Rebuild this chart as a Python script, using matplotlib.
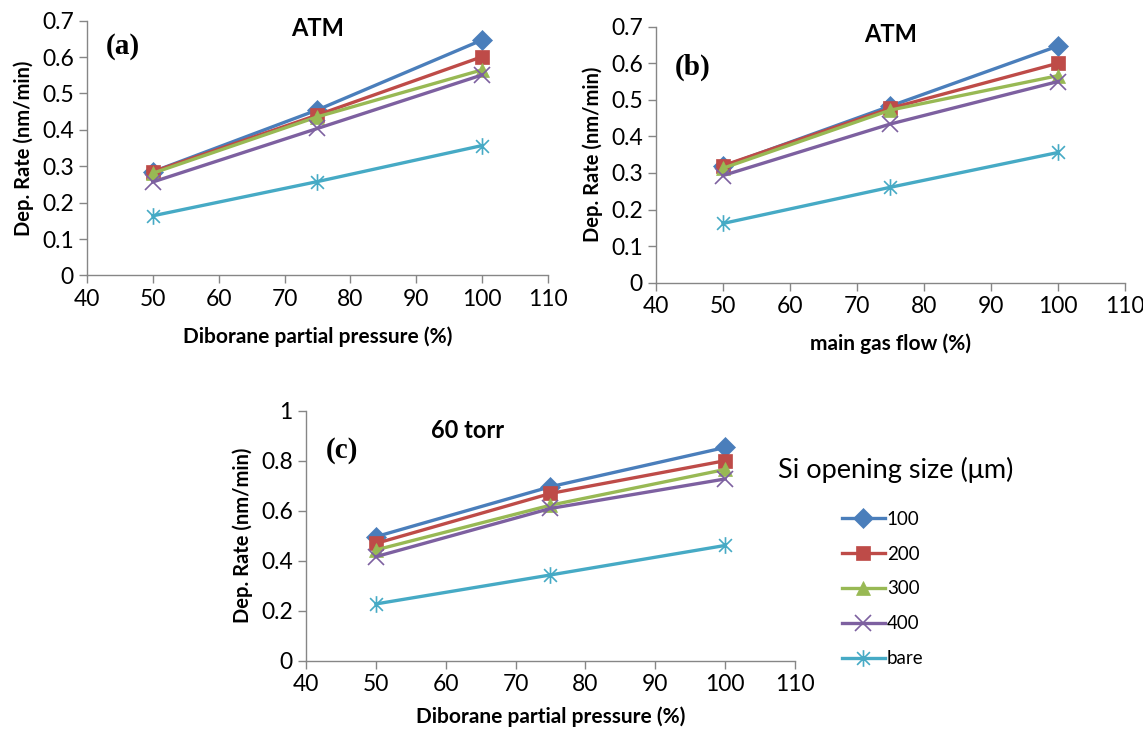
import matplotlib
matplotlib.use('Agg')
import matplotlib.pyplot as plt
from matplotlib.path import Path
from matplotlib.lines import Line2D

plt.rcParams['font.family'] = ['Lato', 'DejaVu Sans']

# x values (%)
x_vals = [50, 75, 100]
series_names = ['100', '200', '300', '400', 'bare']

# (a) ATM, diborane partial pressure
a_100 = [0.285, 0.455, 0.647]
a_200 = [0.285, 0.441, 0.601]
a_300 = [0.281, 0.436, 0.565]
a_400 = [0.257, 0.404, 0.551]
a_bare = [0.164, 0.258, 0.357]

# (b) ATM, main gas flow
b_100 = [0.318, 0.483, 0.647]
b_200 = [0.320, 0.477, 0.600]
b_300 = [0.313, 0.472, 0.566]
b_400 = [0.293, 0.434, 0.550]
b_bare = [0.162, 0.261, 0.356]

# (c) 60 torr, diborane partial pressure
c_100 = [0.496, 0.696, 0.853]
c_200 = [0.469, 0.669, 0.800]
c_300 = [0.443, 0.622, 0.765]
c_400 = [0.416, 0.609, 0.727]
c_bare = [0.227, 0.343, 0.461]

colors = ['#4A7EBB', '#BE4B48', '#98B954', '#7D60A0', '#46AAC5']

# excel style asterisk marker (x with vertical bar)
star = Path([(-1, -1), (1, 1), (-1, 1), (1, -1), (0, -1.3), (0, 1.3)],
            [Path.MOVETO, Path.LINETO, Path.MOVETO, Path.LINETO, Path.MOVETO, Path.LINETO])
markers = ['D', 's', '^', 'x', star]
msizes = [10, 10.5, 10.5, 11, 12]

grey = '#868686'


def style_kw(c, m, ms):
    unfilled = m == 'x' or isinstance(m, Path)
    return dict(color=c, lw=2.4, marker=m, markersize=ms,
                markerfacecolor='none' if unfilled else c,
                markeredgecolor=c, markeredgewidth=1.2 if unfilled else 0.5)


def draw_panel(ax, data, ymax, ystep, title, tag, xlabel, xpad=12):
    for vals, c, m, ms in zip(data, colors, markers, msizes):
        ax.plot(x_vals, vals, **style_kw(c, m, ms))
    ax.set_xlim(40, 110)
    ax.set_ylim(0, ymax)
    ax.set_xticks(range(40, 111, 10))
    n = int(round(ymax / ystep))
    yt = [i * ystep for i in range(n + 1)]
    ax.set_yticks(yt)
    ax.set_yticklabels(['%g' % round(v, 1) for v in yt])
    for s in ['top', 'right']:
        ax.spines[s].set_visible(False)
    for s in ['left', 'bottom']:
        ax.spines[s].set_color(grey)
        ax.spines[s].set_linewidth(1.0)
    ax.tick_params(colors=grey, labelcolor='black', labelsize=16.5, length=6, width=1.0)
    ax.set_xlabel(xlabel, fontsize=15, fontweight='bold', labelpad=xpad)
    ax.set_ylabel('Dep. Rate (nm/min)', fontsize=14.5, fontweight='bold', labelpad=6)
    ax.text(0.5, 0.97, title, transform=ax.transAxes, ha='center', va='center',
            fontsize=17, fontweight='bold')
    ax.text(0.04, 0.90, tag, transform=ax.transAxes, ha='left', va='center',
            fontsize=21, fontweight='bold', family='Liberation Serif')


fig = plt.figure(figsize=(11.43, 7.29), dpi=100)
ax_a = fig.add_axes([0.0761, 0.6221, 0.4033, 0.3495])
ax_b = fig.add_axes([0.5739, 0.6122, 0.4103, 0.3512])
ax_c = fig.add_axes([0.2677, 0.0937, 0.4278, 0.3429])

draw_panel(ax_a, [a_100, a_200, a_300, a_400, a_bare], 0.7, 0.1, 'ATM', '(a)',
           'Diborane partial pressure (%)')
draw_panel(ax_b, [b_100, b_200, b_300, b_400, b_bare], 0.7, 0.1, 'ATM', '(b)',
           'main gas flow (%)')
draw_panel(ax_c, [c_100, c_200, c_300, c_400, c_bare], 1.0, 0.2, '60 torr', '(c)',
           'Diborane partial pressure (%)', xpad=8)
ax_b.texts[1].set_position((0.04, 0.84))
ax_c.texts[0].set_position((0.33, 0.92))
ax_c.texts[1].set_position((0.04, 0.84))

# legend
handles = [Line2D([], [], **style_kw(c, m, ms)) for c, m, ms in zip(colors, markers, msizes)]
fig.text(778 / 1143, 1 - 470 / 729, 'Si opening size (\u03bcm)', fontsize=19.5,
         ha='left', va='center')
fig.legend(handles, series_names, loc='upper left',
           bbox_to_anchor=(825 / 1143, 1 - 494 / 729), frameon=False,
           fontsize=13.5, handlelength=2.3, handletextpad=0.1, labelspacing=0.95)

fig.savefig('out.png', dpi=100)
